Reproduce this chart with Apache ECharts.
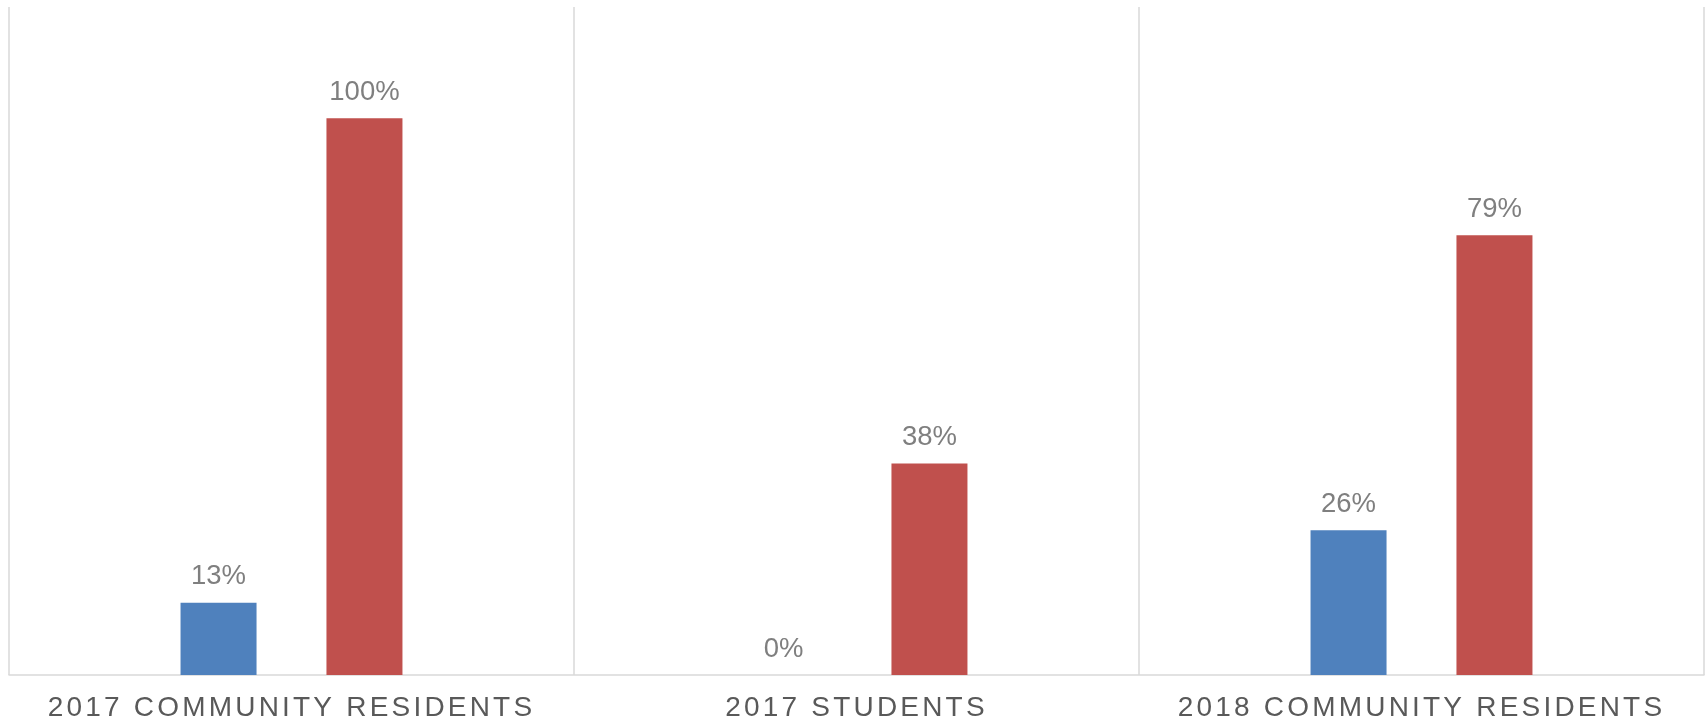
<!DOCTYPE html>
<html>
<head>
<meta charset="utf-8">
<script src="https://cdn.jsdelivr.net/npm/echarts@6/dist/echarts.min.js"></script>
<style>
html, body { margin: 0; padding: 0; background: #ffffff; }
#chart { width: 1708px; height: 724px; }
</style>
</head>
<body>
<div id="chart"></div>
<script>
// ---- data ----
const categories = ['2017 COMMUNITY RESIDENTS', '2017 STUDENTS', '2018 COMMUNITY RESIDENTS'];
const seriesAValues = [13, 0, 26];
const seriesBValues = [100, 38, 79];
const yMax = 120;

// ---- styles ----
const CAT_COLOR = '#595959';
const VAL_COLOR = '#7f7f7f';
const LABEL_SPACING = 3.2;
const FONT = '"Liberation Sans", Arial, sans-serif';

// letter spacing only for category labels (canvas letterSpacing)
(function () {
  const proto = CanvasRenderingContext2D.prototype;
  const orig = proto.fillText;
  proto.fillText = function (text, x, y, maxWidth) {
    if ('letterSpacing' in this) {
      const spaced = String(this.fillStyle).toLowerCase() === CAT_COLOR;
      const want = spaced ? LABEL_SPACING + 'px' : '0px';
      if (this.letterSpacing !== want) {
        this.letterSpacing = want;
        const f = this.font;
        this.font = f;
      }
    }
    return maxWidth === undefined ? orig.call(this, text, x, y) : orig.call(this, text, x, y, maxWidth);
  };
})();

const chart = echarts.init(document.getElementById('chart'), null, { renderer: 'canvas' });

const valueLabel = {
  show: true,
  position: 'top',
  distance: 12,
  color: VAL_COLOR,
  fontSize: 27.5,
  fontFamily: FONT,
  formatter: p => p.value + '%'
};

chart.setOption({
  animation: false,
  backgroundColor: '#ffffff',
  grid: { left: 9, right: 4, top: 7, bottom: 49, containLabel: false },
  xAxis: {
    type: 'category',
    data: categories,
    boundaryGap: true,
    axisLine: { show: true, lineStyle: { color: '#d9d9d9', width: 1.5 } },
    axisTick: { show: false },
    axisLabel: {
      interval: 0,
      margin: 19,
      color: CAT_COLOR,
      fontSize: 28,
      fontFamily: FONT
    },
    splitLine: { show: true, interval: 0, lineStyle: { color: '#d9d9d9', width: 1.5 } }
  },
  yAxis: {
    type: 'value',
    min: 0,
    max: yMax,
    show: false,
    splitLine: { show: false }
  },
  series: [
    {
      name: 'Series 1',
      type: 'bar',
      data: seriesAValues,
      barWidth: 76,
      barGap: '92%',
      itemStyle: { color: '#4f81bd' },
      label: valueLabel
    },
    {
      name: 'Series 2',
      type: 'bar',
      data: seriesBValues,
      barWidth: 76,
      barGap: '92%',
      itemStyle: { color: '#c0504d' },
      label: valueLabel
    }
  ]
});
</script>
</body>
</html>
